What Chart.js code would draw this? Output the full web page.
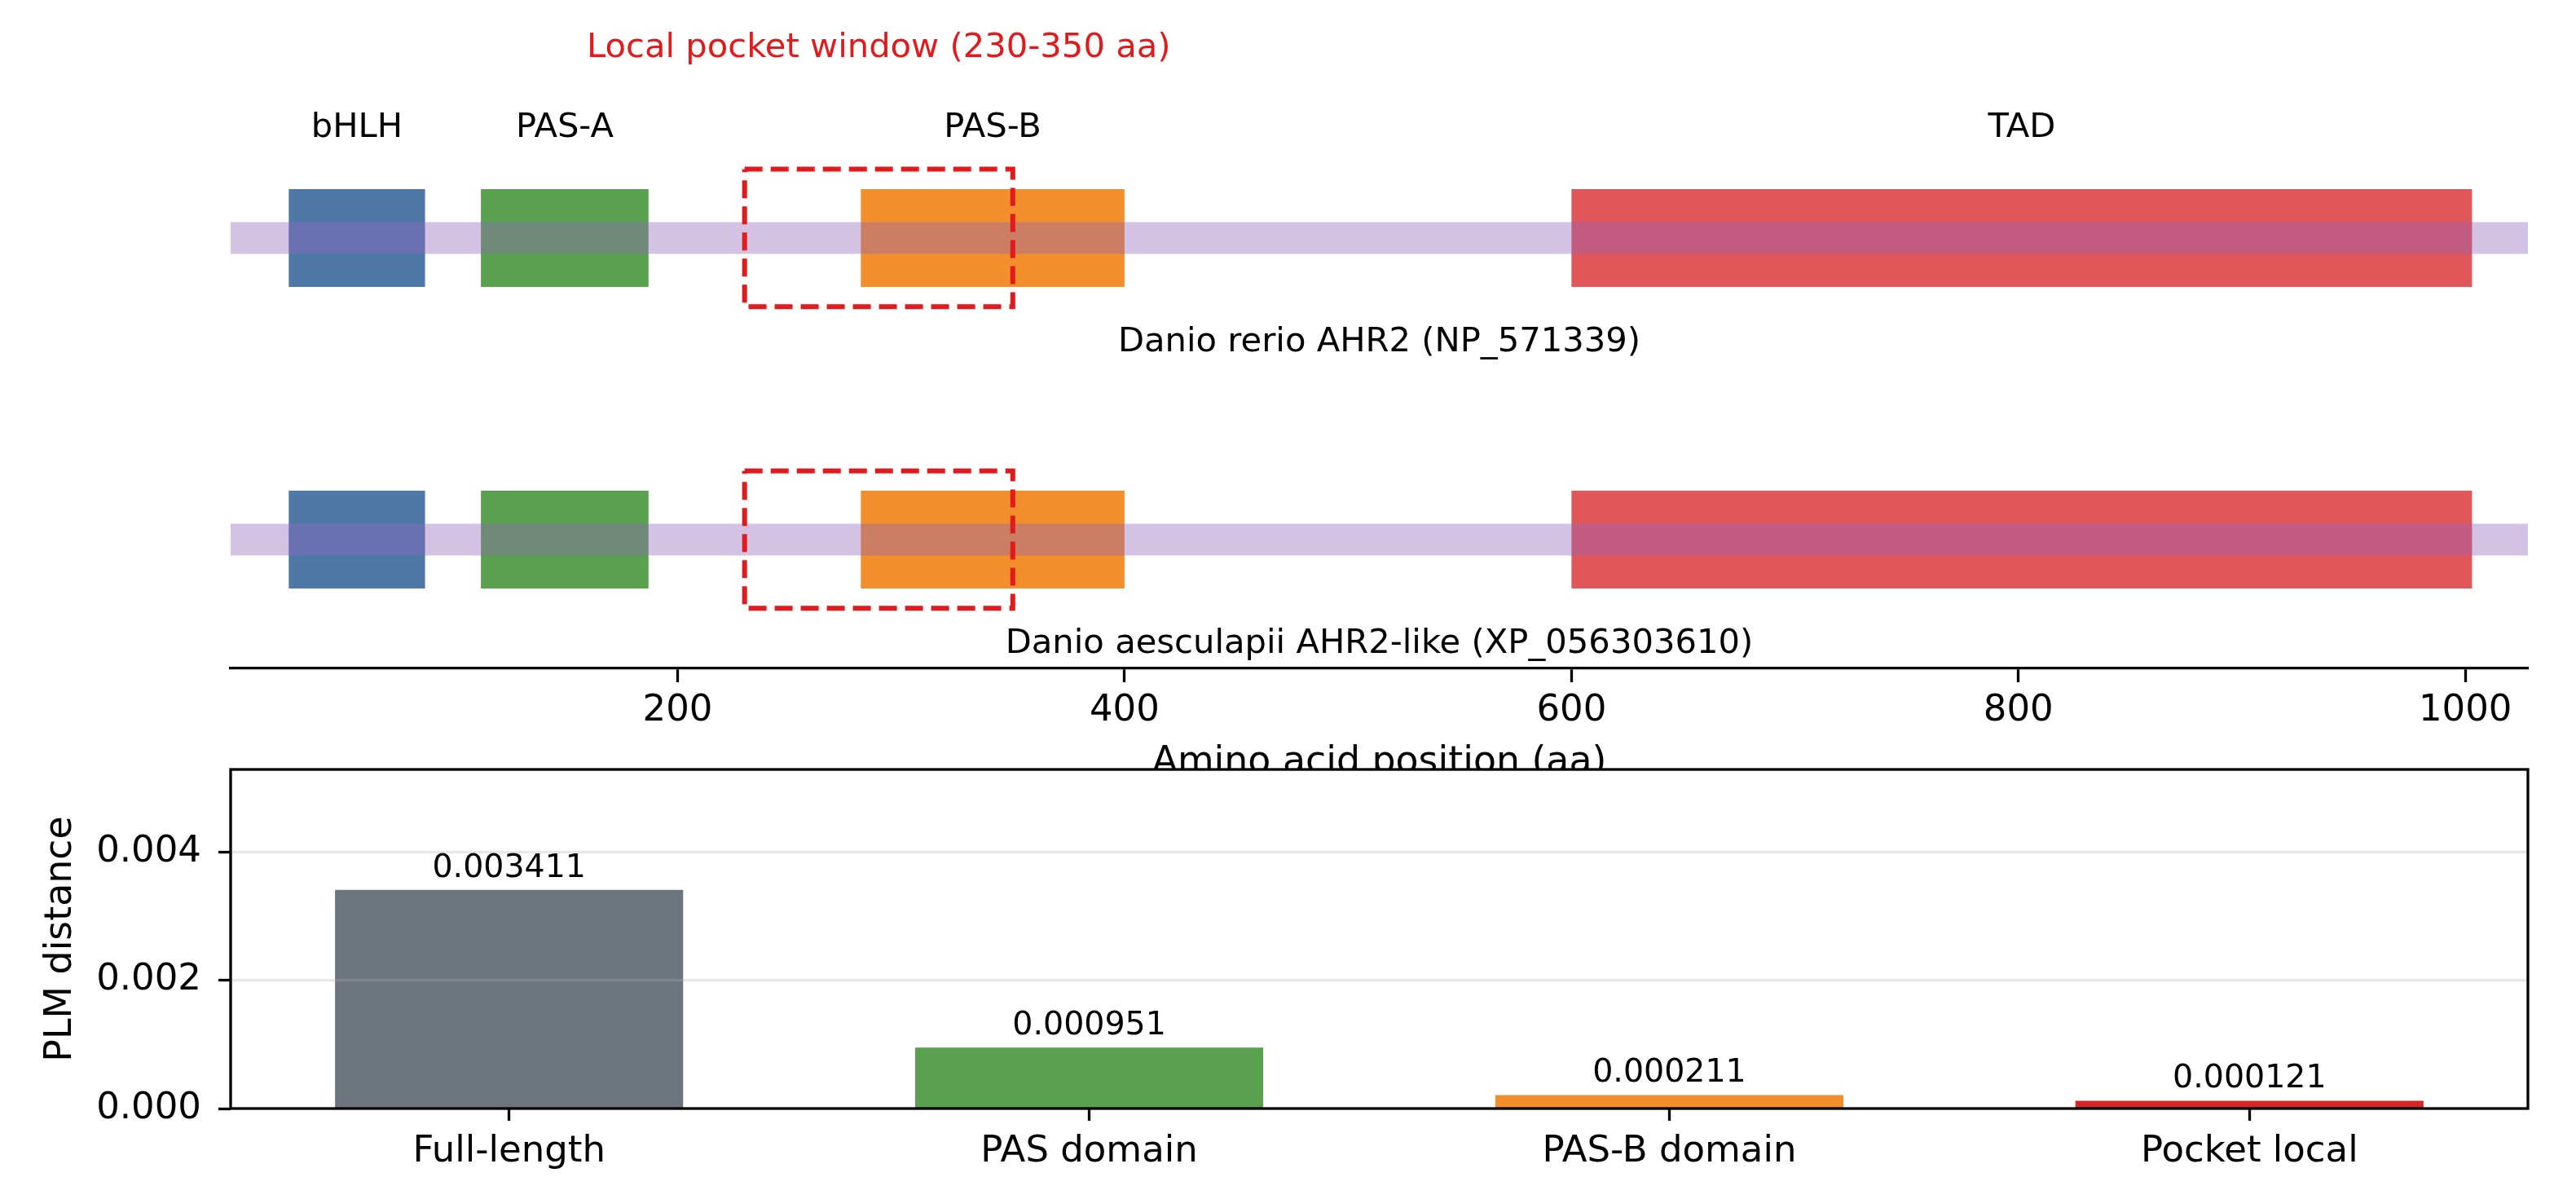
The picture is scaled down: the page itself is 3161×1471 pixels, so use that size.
<!DOCTYPE html>
<html>
<head>
<meta charset="utf-8">
<script src="https://cdn.jsdelivr.net/npm/chart.js@4.4.1/dist/chart.umd.min.js"></script>
<style>
html,body{margin:0;padding:0;background:#fff;width:3161px;height:1471px;overflow:hidden;}
#topChart{position:absolute;left:0;top:0;}
#botChart{position:absolute;left:0;top:940px;}
</style>
</head>
<body>
<canvas id="topChart" width="3161" height="1000"></canvas>
<canvas id="botChart" width="3161" height="531"></canvas>
<script>
// ---------------- data ----------------
const PROTEIN_LENGTH = 1028;
const TRACK_NAMES = ['Danio rerio AHR2 (NP_571339)', 'Danio aesculapii AHR2-like (XP_056303610)'];
const TRACK_Y = [1, 0];
const DOMAIN_NAMES = ['bHLH', 'PAS-A', 'PAS-B', 'TAD'];
const DOMAIN_START = [26, 112, 282, 600];
const DOMAIN_END = [87, 187, 400, 1003];
const DOMAIN_COLORS = ['#4e79a7', '#59a14f', '#f28e2b', '#e15759'];
const POCKET_WINDOW = [230, 350];
const POCKET_TITLE = 'Local pocket window (230-350 aa)';
const POSITION_TICKS = [200, 400, 600, 800, 1000];

const CATEGORIES = ['Full-length', 'PAS domain', 'PAS-B domain', 'Pocket local'];
const PLM_DISTANCE = [0.003411, 0.000951, 0.000211, 0.000121];
const BAR_COLORS = ['#6c757d', '#59a14f', '#f28e2b', '#d62728'];
const DISTANCE_TICKS = [0, 0.002, 0.004];

// ---------------- styling ----------------
const FAMILY = 'DejaVu Sans';
Chart.defaults.font.family = FAMILY;
Chart.defaults.color = '#000';
Chart.defaults.animation = false;

const TICK_FS = 45;
const TITLE_FS = 45.8;
const LABEL_FS = 41.7;
const VALUE_FS = 39.5;
const SPINE_W = 3.3;
const WIN_HALF = 0.228;
const BOX_PCT = 0.324;
const BAND_PCT = 0.105;
const DOMAIN_LABEL_OFF = 0.376;
const TITLE_OFF = 0.6405;
const SPECIES_OFF = -0.334;

// ---------------- top panel ----------------
const domainData = [], domainBg = [];
TRACK_Y.forEach(t => {
  DOMAIN_NAMES.forEach((n, i) => {
    domainData.push({ y: t, x: [DOMAIN_START[i], DOMAIN_END[i]] });
    domainBg.push(DOMAIN_COLORS[i]);
  });
});
const backboneData = TRACK_Y.map(t => ({ y: t, x: [0, PROTEIN_LENGTH] }));
const windowSets = TRACK_Y.map(t => ({
  type: 'line',
  data: [
    { x: POCKET_WINDOW[0], y: t + WIN_HALF },
    { x: POCKET_WINDOW[1], y: t + WIN_HALF },
    { x: POCKET_WINDOW[1], y: t - WIN_HALF },
    { x: POCKET_WINDOW[0], y: t - WIN_HALF },
    { x: POCKET_WINDOW[0], y: t + WIN_HALF }
  ],
  borderColor: '#e31a1c',
  borderWidth: 6,
  borderDash: [22, 10],
  borderJoinStyle: 'miter',
  pointRadius: 0,
  fill: false,
  tension: 0,
  order: 0
}));

const topText = {
  id: 'topText',
  afterDraw(chart) {
    const { ctx, scales: { x, y } } = chart;
    ctx.save();
    ctx.textAlign = 'center';
    ctx.textBaseline = 'alphabetic';
    ctx.font = LABEL_FS + 'px "' + FAMILY + '"';
    const shift = 0.36 * LABEL_FS;
    ctx.fillStyle = '#e31a1c';
    ctx.fillText(POCKET_TITLE, x.getPixelForValue((POCKET_WINDOW[0] + POCKET_WINDOW[1]) / 2),
                 y.getPixelForValue(TRACK_Y[0] + TITLE_OFF) + shift);
    ctx.fillStyle = '#000';
    DOMAIN_NAMES.forEach((n, i) => {
      ctx.fillText(n, x.getPixelForValue((DOMAIN_START[i] + DOMAIN_END[i]) / 2),
                   y.getPixelForValue(TRACK_Y[0] + DOMAIN_LABEL_OFF) + shift);
    });
    TRACK_NAMES.forEach((n, i) => {
      ctx.fillText(n, x.getPixelForValue((x.min + x.max) / 2),
                   y.getPixelForValue(TRACK_Y[i] + SPECIES_OFF) + shift);
    });
    ctx.restore();
  }
};

new Chart(document.getElementById('topChart'), {
  type: 'bar',
  data: {
    datasets: [
      ...windowSets,
      {
        type: 'bar', indexAxis: 'y', data: backboneData,
        backgroundColor: 'rgba(148,103,189,0.4)',
        grouped: false, categoryPercentage: 1, barPercentage: BAND_PCT, order: 1
      },
      {
        type: 'bar', indexAxis: 'y', data: domainData,
        backgroundColor: domainBg,
        grouped: false, categoryPercentage: 1, barPercentage: BOX_PCT, order: 2
      }
    ]
  },
  options: {
    responsive: false,
    devicePixelRatio: 1,
    animation: false,
    layout: { padding: { left: 283, right: 59, top: 0, bottom: 0 } },
    plugins: { legend: { display: false }, tooltip: { enabled: false } },
    scales: {
      x: {
        type: 'linear', min: 0, max: PROTEIN_LENGTH, offset: false,
        afterBuildTicks: s => { s.ticks = POSITION_TICKS.map(v => ({ value: v })); },
        afterFit: s => { s.height = 180; s.paddingLeft = 0; s.paddingRight = 0; },
        ticks: { callback: v => String(v), font: { size: TICK_FS }, padding: 8, maxRotation: 0, autoSkip: false, color: '#000' },
        grid: { display: true, offset: false, drawOnChartArea: false, drawTicks: true, tickLength: 17, tickColor: '#000', tickWidth: SPINE_W },
        border: { display: true, color: '#000', width: SPINE_W },
        title: { display: true, text: 'Amino acid position (aa)', font: { size: TITLE_FS }, color: '#000', padding: { top: 0, bottom: 36 } }
      },
      y: {
        type: 'linear', min: -0.427, max: 1.789, display: false, offset: false,
        grid: { offset: false },
        afterBuildTicks: s => { s.ticks = TRACK_Y.slice().sort().map(v => ({ value: v })); }
      }
    }
  },
  plugins: [topText]
});

// ---------------- bottom panel ----------------
const botPlugin = {
  id: 'botPlugin',
  beforeDraw(chart) {
    const { ctx, chartArea: a } = chart;
    ctx.save();
    ctx.fillStyle = '#fff';
    ctx.fillRect(a.left, a.top, a.right - a.left, a.bottom - a.top);
    ctx.restore();
  },
  afterDatasetsDraw(chart) {
    const { ctx, chartArea: a, scales: { y } } = chart;
    ctx.save();
    ctx.strokeStyle = 'rgba(176,176,176,0.3)';
    ctx.lineWidth = SPINE_W;
    y.ticks.forEach(t => {
      if (t.value <= 0) return;
      const py = y.getPixelForValue(t.value);
      ctx.beginPath(); ctx.moveTo(a.left, py); ctx.lineTo(a.right, py); ctx.stroke();
    });
    ctx.strokeStyle = '#000';
    ctx.lineWidth = SPINE_W;
    ctx.strokeRect(a.left, a.top, a.right - a.left, a.bottom - a.top);
    ctx.fillStyle = '#000';
    ctx.font = VALUE_FS + 'px "' + FAMILY + '"';
    ctx.textAlign = 'center';
    ctx.textBaseline = 'alphabetic';
    const meta = chart.getDatasetMeta(0);
    meta.data.forEach((bar, i) => {
      ctx.fillText(PLM_DISTANCE[i].toFixed(6), bar.x, bar.y - 16);
    });
    ctx.restore();
  }
};

new Chart(document.getElementById('botChart'), {
  type: 'bar',
  data: {
    datasets: [{
      data: CATEGORIES.map((c, i) => ({ x: i, y: PLM_DISTANCE[i] })),
      backgroundColor: BAR_COLORS,
      categoryPercentage: 1,
      barPercentage: 0.6
    }]
  },
  options: {
    responsive: false,
    devicePixelRatio: 1,
    animation: false,
    layout: { padding: { left: 0, right: 59, top: 4, bottom: 0 } },
    plugins: { legend: { display: false }, tooltip: { enabled: false } },
    scales: {
      x: {
        type: 'linear', min: -0.48, max: 3.48, offset: false,
        afterBuildTicks: s => { s.ticks = CATEGORIES.map((c, i) => ({ value: i })); },
        afterFit: s => { s.height = 111; s.paddingLeft = 0; s.paddingRight = 0; },
        ticks: { callback: v => CATEGORIES[v], font: { size: TICK_FS }, padding: 11, autoSkip: false, maxRotation: 0, color: '#000' },
        grid: { display: true, offset: false, drawOnChartArea: false, drawTicks: true, tickLength: 15, tickColor: '#000', tickWidth: SPINE_W },
        border: { display: false }
      },
      y: {
        type: 'linear', min: 0, max: 0.00529, offset: false,
        afterBuildTicks: s => { s.ticks = DISTANCE_TICKS.map(v => ({ value: v })); },
        afterFit: s => { s.width = 283; s.paddingTop = 0; s.paddingBottom = 0; },
        ticks: { callback: v => v.toFixed(3), font: { size: TICK_FS }, padding: 21, color: '#000' },
        grid: { display: true, offset: false, drawOnChartArea: false, drawTicks: true, tickLength: 15, tickColor: '#000', tickWidth: SPINE_W },
        border: { display: false },
        title: { display: true, text: 'PLM distance', font: { size: TITLE_FS }, color: '#000', padding: { top: 48, bottom: 0 } }
      }
    }
  },
  plugins: [botPlugin]
});
</script>
</body>
</html>
